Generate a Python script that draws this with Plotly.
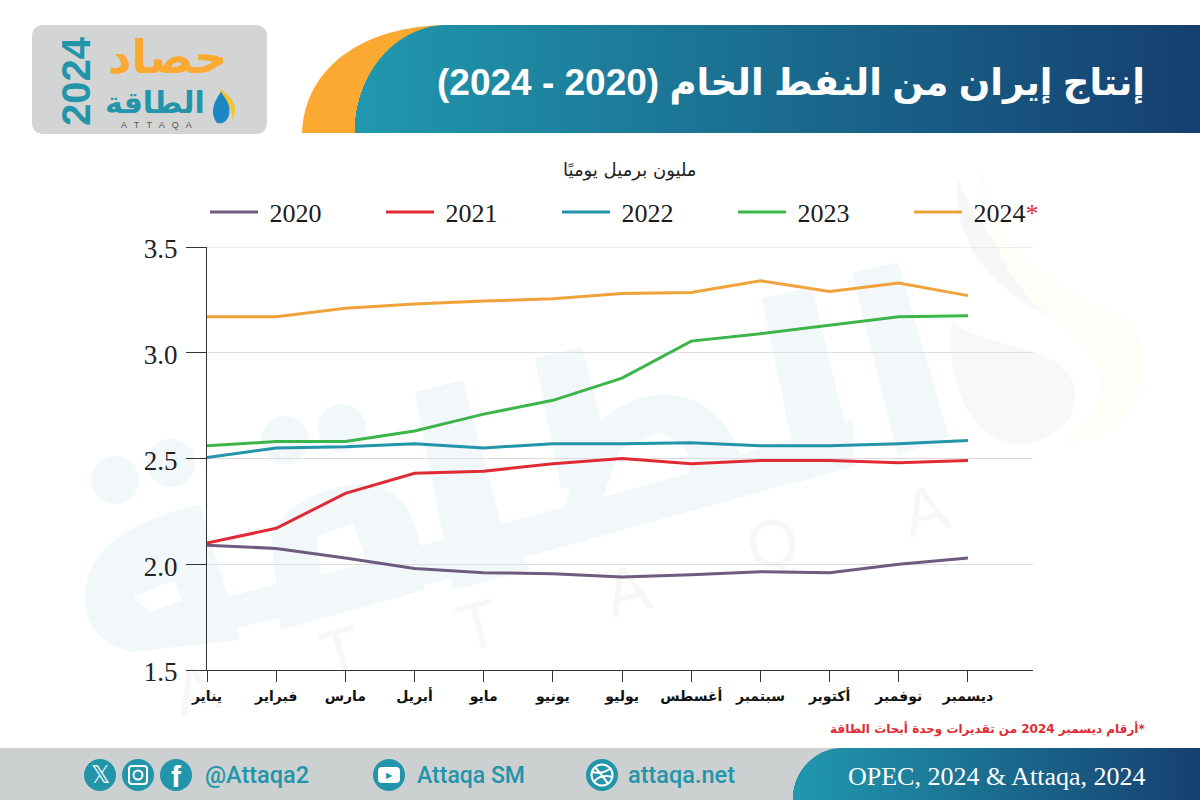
"""Iran crude oil production 2020-2024, monthly, Attaqa style chart."""
import math

import plotly.graph_objects as go

MONTHS = ["يناير", "فبراير", "مارس", "أبريل", "مايو", "يونيو", "يوليو", "أغسطس", "سبتمبر", "أكتوبر", "نوفمبر", "ديسمبر"]

Y2020 = [2.09, 2.075, 2.03, 1.98, 1.96, 1.955, 1.94, 1.95, 1.965, 1.96, 2.0, 2.03]
Y2021 = [2.10, 2.17, 2.335, 2.43, 2.44, 2.475, 2.50, 2.475, 2.49, 2.49, 2.48, 2.49]
Y2022 = [2.505, 2.55, 2.555, 2.57, 2.55, 2.57, 2.57, 2.575, 2.56, 2.56, 2.57, 2.585]
Y2023 = [2.56, 2.58, 2.58, 2.63, 2.71, 2.775, 2.88, 3.055, 3.09, 3.13, 3.17, 3.175]
Y2024 = [3.17, 3.17, 3.21, 3.23, 3.245, 3.255, 3.28, 3.285, 3.34, 3.29, 3.33, 3.27]

SERIES = [
    ("\u00a02020", Y2020, "#6F5B7E"),
    ("\u00a02021", Y2021, "#E02B35"),
    ("\u00a02022", Y2022, "#2295AA"),
    ("\u00a02023", Y2023, "#3BB54A"),
    ("\u00a02024<span style='color:#E02B35'>*</span>", Y2024, "#F0A33A"),
]

TITLE = "إنتاج إيران من النفط الخام (2020 - 2024)"
SUBTITLE = "مليون برميل يوميًا"
FOOTNOTE = "أرقام ديسمبر 2024 من تقديرات وحدة أبحاث الطاقة*"
SOURCE = "OPEC, 2024 & Attaqa, 2024"

ARABIC = "DejaVu Sans"
SERIF = "Liberation Serif"
TEAL = "#2295AA"

# plot area in page pixels
L, R, T, B = 207, 1033, 247, 670


def px(x):
    return (x - L) / (R - L)


def py(y):
    return (B - y) / (B - T)


def path(*parts):
    """Path string from page pixels: strings are commands, tuples are points."""
    out = []
    for p in parts:
        out.append(p if isinstance(p, str) else f"{px(p[0]):.5f},{py(p[1]):.5f}")
    return " ".join(out)


def poly(points):
    return path("M", points[0], *[s for p in points[1:] for s in ("L", p)], "Z")


def lerp_hex(a, b, t):
    ca = [int(a[i:i + 2], 16) for i in (1, 3, 5)]
    cb = [int(b[i:i + 2], 16) for i in (1, 3, 5)]
    return "#" + "".join(f"{round(u + (v - u) * t):02x}" for u, v in zip(ca, cb))


shapes = []


def add_path(d, color, stroke=None):
    shapes.append(dict(type="path", xref="paper", yref="paper", path=d,
                       fillcolor=color if color else "rgba(0,0,0,0)",
                       line=dict(width=2 if stroke else 0, color=stroke or "rgba(0,0,0,0)"), layer="below"))


def add_circle(cx, cy, r, color, stroke=None):
    shapes.append(dict(type="circle", xref="paper", yref="paper", x0=px(cx - r), x1=px(cx + r),
                       y0=py(cy + r), y1=py(cy - r), fillcolor=color if color else "rgba(0,0,0,0)",
                       line=dict(width=2 if stroke else 0, color=stroke or "rgba(0,0,0,0)"), layer="below"))


def add_banner(x_left, x_curve, top, bottom, x_right, left_color, right_color):
    # gradient banner with a rounded left end, drawn as thin strips
    x = x_left
    while x < x_right:
        step = 1 if x < x_curve else 4
        if x < x_curve:
            u = (x_curve - x - step) / (x_curve - x_left)
            y_top = bottom - (bottom - top) * math.sqrt(max(0, 1 - u * u))
        else:
            y_top = top
        t = (x - x_left) / (x_right - x_left)
        shapes.append(dict(type="rect", xref="paper", yref="paper", x0=px(x), x1=px(x + step + 0.5),
                           y0=py(bottom), y1=py(y_top), fillcolor=lerp_hex(left_color, right_color, t),
                           line=dict(width=0), layer="below"))
        x += step


# watermark: the word mark behind the chart
WM = "#F2F8FA"
for cx, cy in [(115, 480), (171, 463), (285, 440), (342, 428)]:
    add_circle(cx, cy, 24, WM)
add_path(path("M", (131, 652), "C", (75, 640), (75, 580), (105, 548), "C", (125, 528), (170, 510), (200, 505),
              "L", (228, 597), "L", (240, 640), "Z"), WM)
add_path(path("M", (271, 533), "C", (295, 490), (375, 465), (405, 505), "C", (420, 530), (424, 560), (424, 590),
              "L", (281, 630), "Z"), WM)
add_path(poly([(131, 652), (424, 585), (853, 466), (853, 420), (565, 507), (424, 545), (228, 597)]), WM)
add_path(poly([(415, 392), (463, 380), (500, 520), (530, 570), (453, 590)]), WM)
add_path(poly([(535, 358), (582, 347), (606, 440), (640, 520), (570, 535)]), WM)
add_path(path("M", (600, 423), "C", (640, 380), (720, 380), (743, 463), "L", (640, 520), "L", (600, 520), "Z"), WM)
add_path(poly([(762, 298), (812, 287), (855, 466), (800, 482)]), WM)
add_path(poly([(852, 273), (898, 262), (949, 437), (898, 455)]), WM)
for hole in ([(133, 597), (174, 580), (182, 600), (150, 612)],
             [(317, 537), (353, 523), (367, 563), (321, 575)],
             [(603, 497), (620, 450), (660, 432), (687, 450), (690, 473)],
             [(500, 520), (565, 507), (570, 490), (498, 470)]):
    add_path(poly(hole), "#FFFFFF")

# watermark: pale drop and swoosh on the right
add_path(path("M", (957, 175), "C", (950, 280), (1040, 320), (1130, 345), "C", (1070, 290), (990, 270), (957, 175), "Z"),
         "#F8F7F8")
add_path(path("M", (985, 160), "C", (960, 230), (1070, 300), (1130, 320), "C", (1170, 390), (1120, 440), (1060, 445),
              "C", (1130, 400), (1100, 340), (1040, 310), "C", (1000, 270), (980, 220), (985, 160), "Z"), "#FFFDF8")
add_path(path("M", (952, 320), "C", (975, 350), (1075, 340), (1075, 395), "C", (1075, 430), (1040, 445), (1015, 445),
              "C", (970, 440), (945, 380), (952, 320), "Z"), "#F6F8FA")

# header
add_path(path("M", (302, 133), "C", (304, 70), (360, 25), (450, 25), "L", (460, 133), "Z"), "#FBA931")
add_banner(355, 448, 25, 133, 1200, "#2098AE", "#153F6F")

# logo box
add_path(path("M", (44, 25), "L", (255, 25), "Q", (267, 25), (267, 37), "L", (267, 122), "Q", (267, 134), (255, 134),
              "L", (44, 134), "Q", (32, 134), (32, 122), "L", (32, 37), "Q", (32, 25), (44, 25), "Z"), "#D3D5D5")
add_path(path("M", (222, 90), "C", (214, 102), (209, 112), (217, 123), "C", (228, 126), (236, 110), (222, 90), "Z"), "#1E86C2")
add_path(path("M", (219, 88), "C", (224, 98), (233, 106), (232, 120), "C", (240, 108), (232, 96), (219, 88), "Z"), "#F4C430")

# footer
shapes.append(dict(type="rect", xref="paper", yref="paper", x0=px(0), x1=px(1200), y0=py(800), y1=py(748),
                   fillcolor="#CDD0D0", line=dict(width=0), layer="below"))
add_banner(793, 843, 748, 800, 1200, "#2098AE", "#153F6F")

# social icons
for cx in [100, 138, 176, 389, 602]:
    add_circle(cx, 775, 16, TEAL)
add_path(path("M", (132, 766), "L", (144, 766), "Q", (147, 766), (147, 769), "L", (147, 781), "Q", (147, 784), (144, 784),
              "L", (132, 784), "Q", (129, 784), (129, 781), "L", (129, 769), "Q", (129, 766), (132, 766), "Z"), None, "#FFFFFF")
add_circle(138, 775, 4.5, None, "#FFFFFF")
add_path(path("M", (382, 767), "L", (396, 767), "Q", (400, 767), (400, 771), "L", (400, 779), "Q", (400, 783), (396, 783),
              "L", (382, 783), "Q", (378, 783), (378, 779), "L", (378, 771), "Q", (378, 767), (382, 767), "Z"), "#FFFFFF")
add_circle(602, 775, 10.5, None, "#FFFFFF")
add_path(path("M", (595, 767), "C", (600, 773), (606, 780), (608, 784)), None, "#FFFFFF")
add_path(path("M", (592, 772), "C", (600, 774), (606, 772), (611, 768)), None, "#FFFFFF")
add_path(path("M", (594, 782), "C", (598, 776), (606, 775), (612, 777)), None, "#FFFFFF")

# top gridline sits on the axis range end, where the axis does not draw one
shapes.append(dict(type="line", xref="paper", yref="y", x0=0, x1=1, y0=3.5, y1=3.5,
                   line=dict(color="#DDDDDD", width=1), layer="below"))

fig = go.Figure()
for name, values, color in SERIES:
    fig.add_trace(go.Scatter(x=MONTHS, y=values, mode="lines", name=name,
                             line=dict(color=color, width=3)))


def note(text, x, y, size, color, family=ARABIC, anchor="center", angle=0, bold=False, weight=None):
    font = dict(family=family, size=size, color=color)
    if weight:
        font["weight"] = weight
    fig.add_annotation(text=f"<b>{text}</b>" if bold else text, xref="paper", yref="paper",
                       x=px(x), y=py(y), showarrow=False, xanchor=anchor, yanchor="middle",
                       textangle=angle, font=font)


note(TITLE, 791, 83, 37, "#FFFFFF", family="Liberation Sans, DejaVu Sans", bold=True)
note(SUBTITLE, 630, 170, 18, "#222222")
note(FOOTNOTE, 1147, 729, 12, "#E02B35", anchor="right", bold=True)
note(SOURCE, 997, 776, 26, "#FFFFFF", family=SERIF)

# logo text
note("حصاد", 167, 57, 46, "#FBA931", bold=True)
note("الطاقة", 155, 102, 30, TEAL, bold=True)
note("2024", 76, 81, 40, TEAL, family="Liberation Sans", angle=-90, bold=True)
note("A   T   T   A   Q   A", 156, 125, 9, "#555555", family="Liberation Sans")

# footer text and icon glyphs
note("@Attaqa2", 203, 775, 23.5, TEAL, family="Roboto", anchor="left", weight=500)
note("Attaqa SM", 415, 775, 23, TEAL, family="Roboto", anchor="left", weight=500)
note("attaqa.net", 626, 775, 23.5, TEAL, family="Roboto", anchor="left", weight=500)
note("𝕏", 100, 775, 24, "#FFFFFF")
note("f", 176, 776, 30, "#FFFFFF", family="Liberation Sans", bold=True)
note("▶", 389, 775, 8, TEAL)

# watermark letters
for ch, x, y in [("A", 196, 690), ("T", 340, 652), ("T", 478, 625), ("A", 627, 590), ("Q", 772, 543), ("A", 925, 510)]:
    note(ch, x, y, 66, "rgba(120,120,120,0.06)", family="Liberation Sans", angle=-15)

fig.update_layout(
    width=1200, height=800,
    margin=dict(l=L, r=1200 - R, t=T, b=800 - B, pad=0),
    paper_bgcolor="#FFFFFF", plot_bgcolor="rgba(0,0,0,0)",
    shapes=shapes,
    showlegend=True,
    legend=dict(orientation="h", x=px(205), y=py(212), xanchor="left", yanchor="middle",
                itemwidth=48, entrywidth=113, entrywidthmode="pixels",
                bgcolor="rgba(0,0,0,0)", font=dict(family=SERIF, size=26, color="#1A1A1A")),
    xaxis=dict(type="category", range=[0, 11.94], showgrid=False, zeroline=False, showline=True,
               linecolor="#333333", linewidth=1, ticks="outside", ticklen=11, tickcolor="#333333",
               tickangle=0, ticklabelstandoff=2,
               tickfont=dict(family=ARABIC, size=14, color="#111111", weight="bold")),
    yaxis=dict(range=[1.5, 3.5], tick0=1.5, dtick=0.5, tickformat=".1f", zeroline=False, showline=True,
               showgrid=True, gridcolor="#DDDDDD", gridwidth=1, linecolor="#333333", linewidth=1,
               ticks="outside", ticklen=20, tickcolor="#333333", ticklabelshift=2, ticklabelstandoff=3,
               tickfont=dict(family=SERIF, size=27, color="#222222")),
)

fig.write_html("out.html", config=dict(displayModeBar=False), post_script="document.body.style.margin='0';")
